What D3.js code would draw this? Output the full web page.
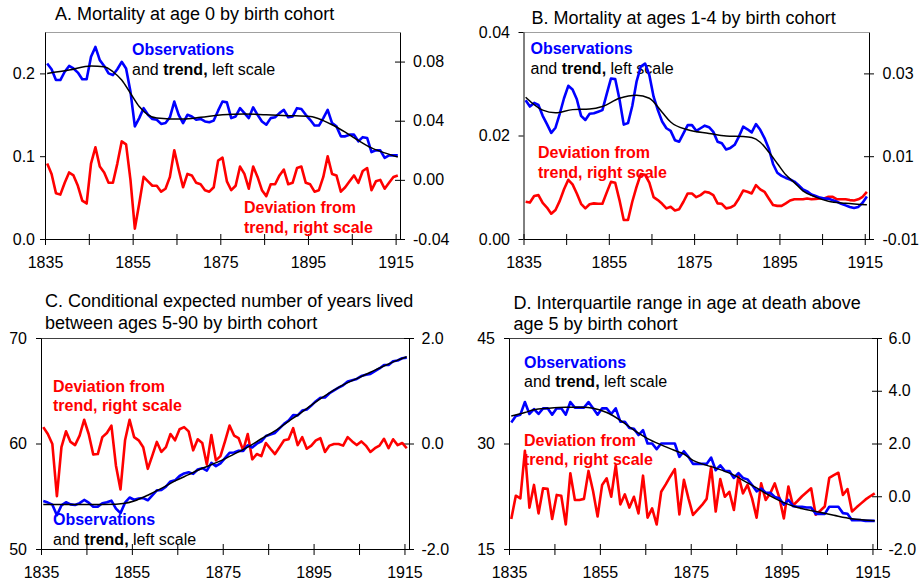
<!DOCTYPE html>
<html><head><meta charset="utf-8">
<script src="https://cdn.jsdelivr.net/npm/d3@7"></script>
<style>body{margin:0;background:#fff}svg text{font-family:"Liberation Sans",Arial,Helvetica,sans-serif}</style>
</head><body>
<svg id="c" width="923" height="584"></svg>
<script>
// ---------- categories ----------
const years = d3.range(1835, 1916);           // birth cohorts 1835..1915
const xTicks = [1835,1845,1855,1865,1875,1885,1895,1905,1915];
const xLabels = [1835,1855,1875,1895,1915];

// ---------- Panel A: mortality at age 0 ----------
const obsA = [0.212,0.205,0.192,0.192,0.202,0.209,0.206,0.201,0.193,0.193,
  0.220,0.232,0.216,0.209,0.200,0.198,0.205,0.214,0.206,0.178,
  0.136,0.146,0.158,0.150,0.145,0.144,0.139,0.140,0.147,0.166,
  0.150,0.140,0.150,0.148,0.144,0.145,0.142,0.141,0.143,0.155,
  0.166,0.165,0.146,0.148,0.158,0.152,0.146,0.159,0.150,0.142,
  0.138,0.146,0.147,0.152,0.156,0.147,0.148,0.158,0.157,0.150,
  0.144,0.137,0.137,0.146,0.156,0.140,0.136,0.124,0.124,0.126,
  0.126,0.118,0.123,0.122,0.105,0.107,0.107,0.098,0.101,0.101,
  0.101];
const trendYearsA = [1835,1840,1845,1848,1850,1852,1854,1856,1858,1860,1863,1866,1870,1875,1880,1885,1890,1895,1898,1900,1903,1906,1909,1912,1915];
const trendA = [0.200,0.204,0.209,0.208,0.202,0.192,0.176,0.160,0.150,0.146,0.145,0.145,0.147,0.150,0.151,0.150,0.149,0.148,0.143,0.138,0.129,0.119,0.110,0.104,0.099];
const devA = [0.011,0.004,-0.009,-0.010,-0.002,0.005,0.003,-0.004,-0.014,-0.016,
  0.011,0.022,0.009,0.005,-0.002,-0.002,0.011,0.026,0.024,0.000,
  -0.033,-0.016,0.002,-0.001,-0.004,-0.004,-0.008,-0.006,0.002,0.020,
  0.007,-0.005,0.004,0.003,-0.002,-0.003,-0.007,-0.008,-0.005,0.013,
  0.015,-0.001,-0.007,-0.004,0.009,0.004,-0.006,0.009,0.002,-0.007,
  -0.011,-0.003,-0.003,0.003,0.007,-0.003,-0.002,0.008,0.009,-0.002,
  -0.003,-0.008,-0.007,0.002,0.016,0.004,0.003,-0.008,-0.005,-0.001,
  0.003,-0.002,0.006,0.008,-0.007,-0.001,0.000,-0.006,-0.002,0.002,
  0.003];

// ---------- Panel B: mortality at ages 1-4 ----------
const obsB = [0.0268,0.0256,0.0263,0.0259,0.0238,0.0222,0.0205,0.0215,0.0242,0.0272,
  0.0296,0.0289,0.0270,0.0238,0.0230,0.0242,0.0243,0.0246,0.0249,0.0280,
  0.0310,0.0309,0.0270,0.0221,0.0224,0.0257,0.0304,0.0333,0.0339,0.0317,
  0.0275,0.0249,0.0227,0.0214,0.0209,0.0191,0.0188,0.0204,0.0220,0.0220,
  0.0209,0.0214,0.0219,0.0216,0.0207,0.0188,0.0185,0.0173,0.0176,0.0182,
  0.0198,0.0217,0.0212,0.0206,0.0222,0.0211,0.0195,0.0175,0.0145,0.0128,
  0.0122,0.0118,0.0115,0.0111,0.0104,0.0096,0.0092,0.0086,0.0083,0.0080,
  0.0078,0.0078,0.0075,0.0072,0.0068,0.0065,0.0062,0.0060,0.0062,0.0070,
  0.0082];
const trendYearsB = [1835,1839,1842,1846,1850,1853,1857,1861,1864,1867,1869,1873,1878,1882,1886,1888,1890,1892,1894,1896,1898,1900,1903,1906,1910,1915];
const trendB = [0.0274,0.0249,0.0244,0.0250,0.0251,0.0256,0.0272,0.0278,0.0272,0.0245,0.0226,0.0211,0.0204,0.0199,0.0198,0.0196,0.0187,0.0168,0.0146,0.0124,0.0109,0.0093,0.0081,0.0073,0.0069,0.0066];
const devB = [-0.0010,-0.0012,0.0004,0.0006,-0.0013,-0.0024,-0.0039,-0.0030,-0.0008,0.0020,
  0.0043,0.0032,0.0010,-0.0015,-0.0026,-0.0016,-0.0014,-0.0015,-0.0015,0.0012,
  0.0038,0.0036,-0.0006,-0.0054,-0.0054,-0.0010,0.0026,0.0057,0.0055,0.0036,
  0.0001,-0.0006,-0.0015,-0.0026,-0.0022,-0.0031,-0.0028,-0.0010,0.0010,0.0010,
  0.0001,0.0006,0.0014,0.0012,0.0006,-0.0014,-0.0015,-0.0026,-0.0024,-0.0018,
  -0.0002,0.0017,0.0014,0.0010,0.0030,0.0020,0.0014,-0.0002,-0.0018,-0.0020,
  -0.0020,-0.0014,-0.0007,-0.0004,-0.0004,-0.0004,-0.0002,-0.0004,-0.0003,-0.0002,
  -0.0002,0.0002,0.0002,-0.0004,-0.0004,-0.0004,-0.0006,-0.0007,-0.0004,0.0002,
  0.0014];

// ---------- Panel C: years lived between ages 5-90 ----------
const obsC = [54.54,54.40,54.20,53.20,54.13,54.43,54.23,54.17,54.35,54.65,
  54.39,54.00,54.02,54.34,54.43,54.58,53.83,53.40,54.39,54.88,
  54.67,54.78,54.83,54.62,55.09,55.56,55.59,55.91,56.40,56.51,
  56.92,57.16,57.28,57.12,57.53,57.66,57.43,58.16,57.86,58.11,
  58.61,59.12,59.15,59.32,59.30,59.83,59.62,59.98,60.21,60.71,
  60.85,61.00,61.43,61.86,62.18,62.69,62.67,63.12,63.22,63.59,
  64.01,64.33,64.36,64.76,65.04,65.29,65.51,65.87,65.99,66.12,
  66.39,66.51,66.59,66.86,67.11,67.44,67.44,67.80,67.87,68.08,
  68.14];
const trendYearsC = [1835,1845,1851,1853,1855,1858,1861,1864,1867,1870,1874,1877,1880,1883,1886,1889,1892,1895,1898,1901,1904,1907,1910,1913,1915];
const trendC = [54.23,54.21,54.25,54.33,54.55,55.10,55.75,56.45,57.05,57.65,58.35,59.00,59.65,60.45,61.20,62.10,63.00,63.95,64.80,65.55,66.15,66.75,67.35,67.90,68.23];
const devC = [0.31,0.18,-0.01,-1.00,-0.07,0.23,0.03,-0.03,0.15,0.45,
  0.18,-0.21,-0.20,0.12,0.20,0.34,-0.42,-0.87,0.06,0.45,
  0.12,0.06,-0.07,-0.48,-0.23,0.03,-0.16,-0.07,0.18,0.06,
  0.27,0.31,0.23,-0.13,0.08,0.01,-0.40,0.16,-0.32,-0.24,
  0.04,0.34,0.15,0.10,-0.13,0.18,-0.30,-0.20,-0.24,0.01,
  -0.10,-0.20,-0.07,0.06,0.08,0.29,-0.03,0.12,-0.10,-0.04,
  0.06,0.10,-0.16,-0.04,-0.01,-0.01,-0.04,0.12,0.04,-0.03,
  0.04,-0.04,-0.16,-0.09,-0.04,0.09,-0.09,0.08,-0.03,0.01,
  -0.09];

// ---------- Panel D: interquartile range in age at death above 5 ----------
const obsD = [33.0,33.9,34.1,35.9,34.2,34.9,34.2,35.0,35.0,34.1,
  35.0,35.0,34.1,35.9,35.1,35.1,35.1,35.9,35.0,34.1,
  35.0,35.0,34.2,35.0,33.1,33.1,32.2,32.1,31.2,31.9,
  30.0,30.0,29.2,30.0,30.0,30.0,30.0,28.1,28.9,28.1,
  27.1,27.1,27.1,27.1,28.0,26.2,26.9,26.1,26.1,25.1,
  25.8,25.1,24.9,24.1,23.2,23.6,23.0,23.0,22.4,22.2,
  21.3,22.0,21.1,21.0,21.0,20.9,20.9,20.0,20.0,20.0,
  21.0,21.0,21.0,20.1,20.0,19.1,19.1,19.1,19.0,19.0,
  19.0];
const trendYearsD = [1835,1838,1840,1843,1847,1851,1853,1856,1859,1862,1865,1868,1871,1873,1875,1877,1880,1884,1887,1889,1891,1893,1895,1898,1902,1906,1910,1915];
const trendD = [33.9,34.4,34.8,35.0,35.15,35.15,35.0,34.4,33.3,31.9,30.7,29.8,29.0,28.5,27.6,27.1,26.5,25.5,24.4,23.7,22.9,22.2,21.6,20.9,20.35,19.8,19.3,19.0];
const devD = [-0.86,0.02,-0.08,1.72,-0.43,0.43,-0.65,0.30,0.28,-0.86,
  0.05,0.02,-1.07,0.87,-0.14,-0.14,-0.10,0.96,0.20,-0.77,
  0.43,0.68,-0.02,1.18,-0.31,0.07,-0.43,-0.02,-0.65,0.78,
  -0.81,-0.46,-1.07,0.17,0.45,0.75,1.03,-0.69,0.62,-0.08,
  -0.71,-0.52,-0.33,-0.10,1.12,-0.58,0.65,-0.02,0.17,-0.52,
  0.78,0.11,0.43,-0.08,-0.81,0.49,-0.14,0.11,0.49,-0.05,
  -0.84,0.37,-0.35,-0.18,0.00,0.15,0.30,-0.70,-0.55,-0.39,
  0.70,0.80,0.89,0.05,0.27,-0.58,-0.42,-0.27,-0.12,0.00,
  0.11];

// ---------- tick labels ----------
const leftTicksA = [0, 0.1, 0.2],        rightTicksA = [-0.04, 0, 0.04, 0.08];
const leftTicksB = [0, 0.02, 0.04],      rightTicksB = [-0.01, 0.01, 0.03];
const leftTicksC = [50, 60, 70],         rightTicksC = [-2, 0, 2];
const leftTicksD = [15, 30, 45],         rightTicksD = [-2, 0, 2, 4, 6];

// ---------- layout ----------
const panels = [
  {title:["A. Mortality at age 0 by birth cohort"], tx:55, ty:[20],
   l:45, r:400, t:32, b:239, topColor:"#a0a0a0",
   yL:[0,0.25], yR:[-0.04,0.10], lt:leftTicksA, rt:rightTicksA, lf:".1f", rf:".2f", lpad:5, rpad:8,
   obs:obsA, ty2:trendYearsA, trend:trendA, dev:devA,
   obsLab:[132,55], devLab:[244,213]},
  {title:["B. Mortality at ages 1-4 by birth cohort"], tx:531.5, ty:[23.5],
   l:523.5, r:869, t:32, b:239, topColor:"#a0a0a0",
   yL:[0,0.04], yR:[-0.01,0.04], lt:leftTicksB, rt:rightTicksB, lf:".2f", rf:".2f", lpad:8.5, rpad:8.5,
   obs:obsB, ty2:trendYearsB, trend:trendB, dev:devB,
   obsLab:[530.5,54], devLab:[538,158]},
  {title:["C. Conditional expected number of years lived","between ages 5-90 by birth cohort"], tx:45, ty:[306.5,328.5],
   l:41, r:409, t:338, b:549, topColor:"#404040",
   yL:[50,70], yR:[-2,2], lt:leftTicksC, rt:rightTicksC, lf:"d", rf:".1f", lpad:9, rpad:7.5,
   obs:obsC, ty2:trendYearsC, trend:trendC, dev:devC,
   obsLab:[53,525], devLab:[53,391.5], devFirst:true},
  {title:["D. Interquartile range in age at death above","age 5 by birth cohort"], tx:513.5, ty:[308.5,330],
   l:509, r:877, t:338, b:549, topColor:"#404040",
   yL:[15,45], yR:[-2,6], lt:leftTicksD, rt:rightTicksD, lf:"d", rf:".1f", lpad:9, rpad:6.5,
   obs:obsD, ty2:trendYearsD, trend:trendD, dev:devD,
   obsLab:[524,367.5], devLab:[524,445.5]}
];

const svg = d3.select("#c");
const fmt = f => v => d3.format(f)(v).replace("\u2212", "-");
const FS = 16;

function styleAxis(g) {
  g.attr("font-size", FS).attr("font-family", null);
  g.selectAll("text").attr("fill", "#000");
  g.selectAll("line").attr("stroke", "#000");
  g.select(".domain").attr("stroke", "#000");
}

panels.forEach(p => {
  const g = svg.append("g");
  const x = d3.scaleLinear().domain([1835, 1916]).range([p.l, p.r]);
  const yL = d3.scaleLinear().domain(p.yL).range([p.b, p.t]);
  const yR = d3.scaleLinear().domain(p.yR).range([p.b, p.t]);

  // title
  const tt = g.append("text").attr("font-size", 18).attr("fill", "#000");
  p.title.forEach((s, i) => tt.append("tspan").attr("x", p.tx).attr("y", p.ty[i]).text(s));

  // top border
  g.append("line").attr("x1", p.l).attr("x2", p.r).attr("y1", p.t + 0.5).attr("y2", p.t + 0.5)
    .attr("stroke", p.topColor).attr("stroke-width", 1);

  // axes
  const gl = g.append("g").attr("transform", `translate(${p.l},0)`)
    .call(d3.axisLeft(yL).tickValues(p.lt).tickFormat(fmt(p.lf)).tickSizeInner(5).tickSizeOuter(0).tickPadding(p.lpad));
  styleAxis(gl);
  const gr = g.append("g").attr("transform", `translate(${p.r},0)`)
    .call(d3.axisRight(yR).tickValues(p.rt).tickFormat(fmt(p.rf)).tickSizeInner(5).tickSizeOuter(0).tickPadding(p.rpad));
  styleAxis(gr);
  gr.selectAll(".tick line").attr("x1", -5);
  const gb = g.append("g").attr("transform", `translate(0,${p.b})`)
    .call(d3.axisBottom(x).tickValues(xTicks).tickFormat(d => xLabels.includes(d) ? String(d) : "")
      .tickSizeInner(6).tickSizeOuter(0).tickPadding(11.6));
  styleAxis(gb);
  gb.selectAll(".tick line").attr("y1", -5);

  // annotations
  const ob = g.append("g");
  ob.append("text").attr("x", p.obsLab[0]).attr("y", p.obsLab[1]).attr("font-size", FS)
    .attr("font-weight", "bold").attr("fill", "#0000FF").text("Observations");
  const t2 = ob.append("text").attr("x", p.obsLab[0]).attr("y", p.obsLab[1] + 19.5).attr("font-size", FS).attr("fill", "#000");
  t2.append("tspan").text("and ");
  t2.append("tspan").attr("font-weight", "bold").text("trend,");
  t2.append("tspan").text(" left scale");
  const dv = g.append("text").attr("font-size", FS).attr("font-weight", "bold").attr("fill", "#FF0000");
  dv.append("tspan").attr("x", p.devLab[0]).attr("y", p.devLab[1]).text("Deviation from");
  dv.append("tspan").attr("x", p.devLab[0]).attr("y", p.devLab[1] + 19.5).text("trend, right scale");

  // series
  const pos = yr => x(yr + 0.5);
  const lineL = d3.line().x(d => pos(d[0])).y(d => yL(d[1]));
  const lineR = d3.line().x(d => pos(d[0])).y(d => yR(d[1]));
  const lineT = d3.line().x(d => pos(d[0])).y(d => yL(d[1])).curve(d3.curveMonotoneX);

  g.append("path").datum(years.map((yr, i) => [yr, p.dev[i]]))
    .attr("d", lineR).attr("fill", "none").attr("stroke", "#FF0000").attr("stroke-width", 2.6).attr("stroke-linejoin", "round");
  g.append("path").datum(years.map((yr, i) => [yr, p.obs[i]]))
    .attr("d", lineL).attr("fill", "none").attr("stroke", "#0000FF").attr("stroke-width", 2.6).attr("stroke-linejoin", "round");
  g.append("path").datum(p.ty2.map((yr, i) => [yr, p.trend[i]]))
    .attr("d", lineT).attr("fill", "none").attr("stroke", "#000").attr("stroke-width", 1.5);
});
</script>
</body></html>
